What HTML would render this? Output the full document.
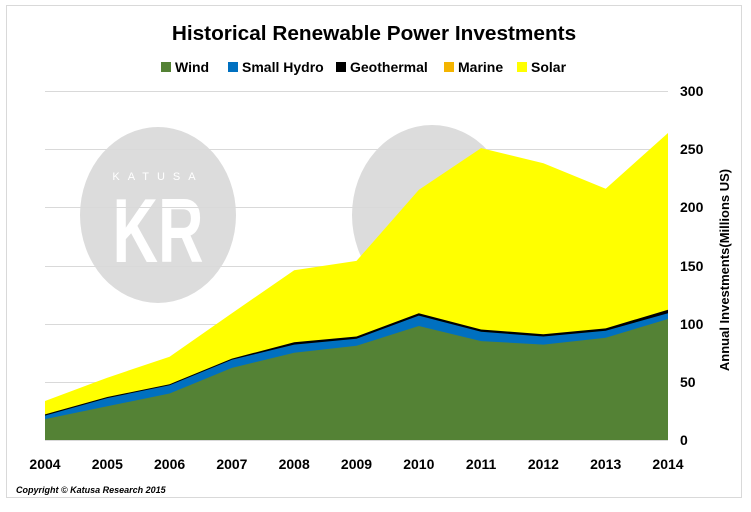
<!DOCTYPE html>
<html><head><style>
body{margin:0;background:#fff;}
svg{display:block;font-family:"Liberation Sans",sans-serif;}
</style></head><body>
<svg width="751" height="512" viewBox="0 0 751 512">
<rect x="0" y="0" width="751" height="512" fill="#fff"/>
<rect x="6.5" y="5.5" width="735" height="492" fill="none" stroke="#d9d9d9"/>
<text x="374" y="40" text-anchor="middle" font-size="20" font-weight="bold" transform="translate(374,0) scale(1.04,1) translate(-374,0)">Historical Renewable Power Investments</text>
<g font-size="14" font-weight="bold">
<rect x="161" y="62" width="10" height="10" fill="#548235"/><text x="175" y="72">Wind</text>
<rect x="228" y="62" width="10" height="10" fill="#0070c0"/><text x="242" y="72">Small Hydro</text>
<rect x="336" y="62" width="10" height="10" fill="#000"/><text x="350" y="72">Geothermal</text>
<rect x="444" y="62" width="10" height="10" fill="#f4b400"/><text x="458" y="72">Marine</text>
<rect x="517" y="62" width="10" height="10" fill="#ffff00"/><text x="531" y="72">Solar</text>
</g>
<ellipse cx="158" cy="215" rx="78" ry="88" fill="#dcdcdc"/>
<ellipse cx="432" cy="215" rx="80" ry="90" fill="#dcdcdc"/>
<text x="0" y="0" text-anchor="middle" font-size="70" font-weight="bold" fill="#fff" transform="translate(158,262) scale(0.9,1.3)">KR</text>
<text x="158" y="180" text-anchor="middle" font-size="11" fill="#fff" letter-spacing="8">KATUSA</text>
<g stroke="#d9d9d9" stroke-width="1">
<line x1="45" x2="668" y1="91.5" y2="91.5"/><line x1="45" x2="668" y1="149.5" y2="149.5"/>
<line x1="45" x2="668" y1="207.5" y2="207.5"/><line x1="45" x2="668" y1="266.5" y2="266.5"/>
<line x1="45" x2="668" y1="324.5" y2="324.5"/><line x1="45" x2="668" y1="382.5" y2="382.5"/>
</g>
<polygon fill="#ffff00" points="45,440 45,401 107.3,377.7 169.6,356.7 231.9,313.2 294.2,270.2 356.5,260.9 418.8,189.9 481.1,148.1 543.4,163.2 605.7,188.8 668,133 668,440"/>
<polygon fill="#000" points="45,440 45,414.4 107.3,397 169.6,384.2 231.9,358.6 294.2,342.3 356.5,336.5 418.8,313.2 481.1,329.5 543.4,334.2 605.7,328.4 668,309.7 668,440"/>
<polygon fill="#0070c0" points="45,440 45,415.6 107.3,398.1 169.6,385.3 231.9,359.8 294.2,344.6 356.5,338.8 418.8,315.6 481.1,331.8 543.4,336.5 605.7,330.7 668,313.2 668,440"/>
<polygon fill="#548235" points="45,440 45,419.1 107.3,406.3 169.6,393.5 231.9,367.9 294.2,352.8 356.5,345.8 418.8,326 481.1,341.1 543.4,344.6 605.7,337.7 668,319 668,440"/>
<line x1="45" x2="668" y1="440.5" y2="440.5" stroke="#d9d9d9"/>
<g font-size="14" font-weight="bold">
<text x="680" y="96">300</text><text x="680" y="154">250</text><text x="680" y="212">200</text>
<text x="680" y="271">150</text><text x="680" y="329">100</text><text x="680" y="387">50</text><text x="680" y="445">0</text>
<g text-anchor="middle">
<text x="45" y="469">2004</text><text x="107.3" y="469">2005</text><text x="169.6" y="469">2006</text>
<text x="231.9" y="469">2007</text><text x="294.2" y="469">2008</text><text x="356.5" y="469">2009</text>
<text x="418.8" y="469">2010</text><text x="481.1" y="469">2011</text><text x="543.4" y="469">2012</text>
<text x="605.7" y="469">2013</text><text x="668" y="469">2014</text>
</g>
<text transform="translate(729,270) rotate(-90)" text-anchor="middle" font-size="13">Annual Investments(Millions US)</text>
</g>
<text x="16" y="493" font-size="9" font-style="italic" font-weight="bold">Copyright © Katusa Research 2015</text>
</svg>
</body></html>
